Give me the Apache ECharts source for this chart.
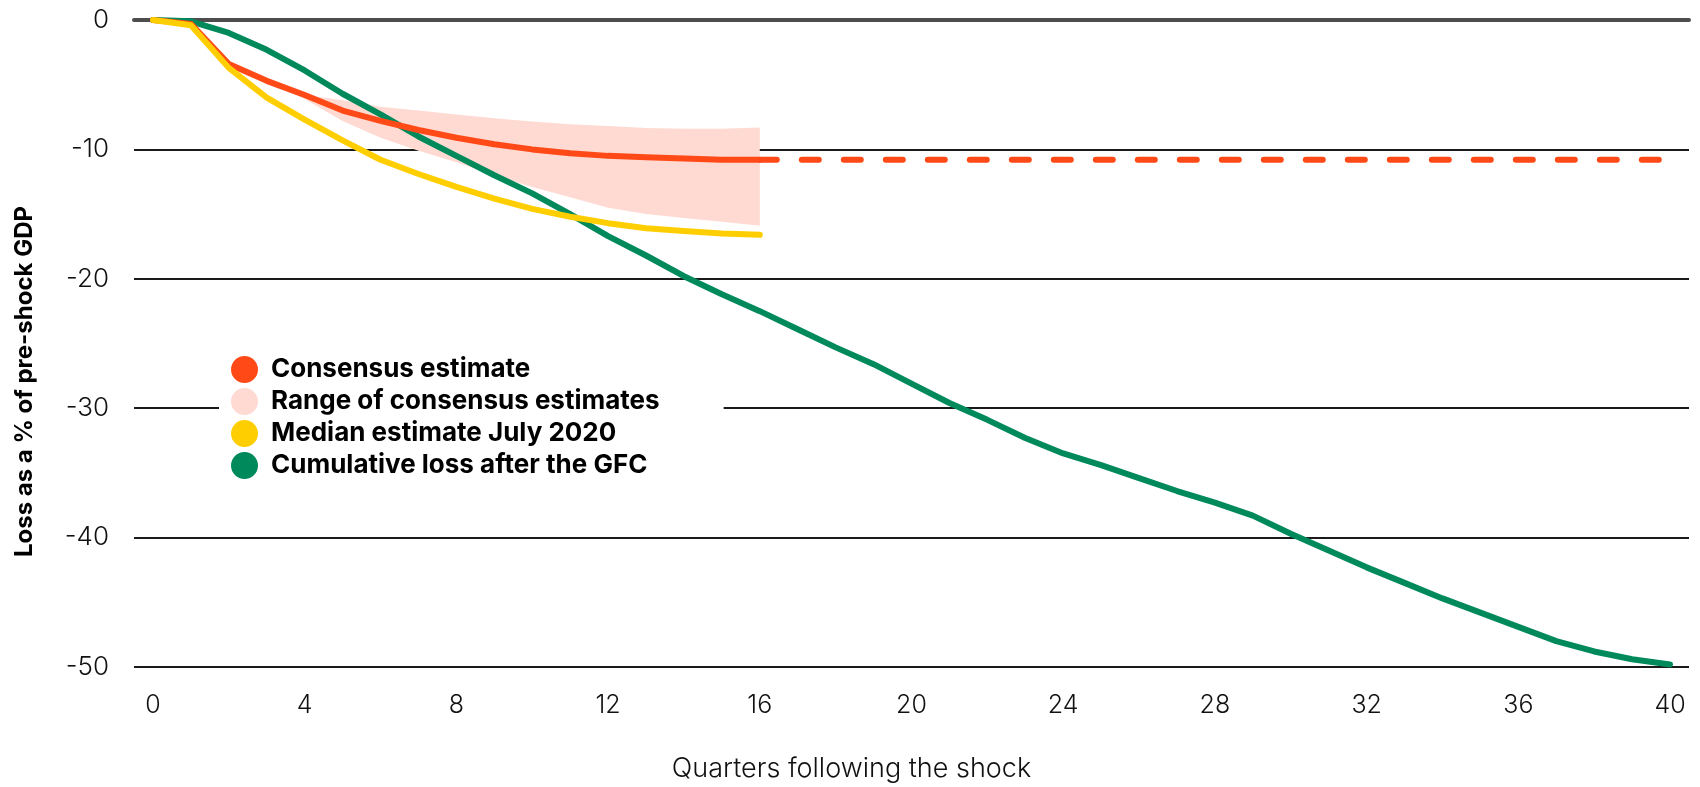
<!DOCTYPE html>
<html>
<head>
<meta charset="utf-8">
<script src="https://cdn.jsdelivr.net/npm/echarts@6/dist/echarts.min.js"></script>
<style>
html,body{margin:0;padding:0;background:#fff;}
#chart{width:1700px;height:787px;}
</style>
</head>
<body>
<div id="chart"></div>
<script>
// Quarters following the shock (0..40)
const quarters = ['0','1','2','3','4','5','6','7','8','9','10','11','12','13','14','15','16','17','18','19','20',
  '21','22','23','24','25','26','27','28','29','30','31','32','33','34','35','36','37','38','39','40'];

// Y-axis tick values
const yTicks = [0, -10, -20, -30, -40, -50];

// Consensus estimate (solid, quarters 0..16)
const consensus = [0, -0.3, -3.4, -4.7, -5.8, -7.0, -7.8, -8.5, -9.1, -9.6, -10.0, -10.3, -10.5, -10.6, -10.7, -10.8, -10.8];

// Consensus estimate extended (dashed, quarters 16..40)
const consensusExt = [-10.8, -10.8, -10.8, -10.8, -10.8, -10.8, -10.8, -10.8, -10.8, -10.8, -10.8, -10.8, -10.8,
  -10.8, -10.8, -10.8, -10.8, -10.8, -10.8, -10.8, -10.8, -10.8, -10.8, -10.8, -10.8];

// Range of consensus estimates (quarters 3..16)
const rangeStart = 3;
const rangeUpper = [-4.7, -5.8, -6.2, -6.7, -7.0, -7.3, -7.6, -7.85, -8.05, -8.2, -8.35, -8.4, -8.4, -8.3];
const rangeLower = [-4.7, -6.1, -7.8, -9.1, -10.1, -11.0, -12.0, -12.9, -13.7, -14.5, -15.0, -15.3, -15.6, -15.9];

// Median estimate July 2020 (quarters 0..16)
const median = [0, -0.4, -3.7, -6.0, -7.7, -9.3, -10.8, -11.9, -12.9, -13.8, -14.6, -15.2, -15.7, -16.1, -16.3, -16.5, -16.6];

// Cumulative loss after the GFC (quarters 0..40)
const gfc = [0, -0.1, -1.0, -2.3, -3.9, -5.7, -7.3, -9.0, -10.5, -12.0, -13.4, -15.0, -16.7, -18.2, -19.8, -21.2,
  -22.5, -23.9, -25.3, -26.6, -28.1, -29.6, -30.9, -32.3, -33.5, -34.4, -35.4, -36.4, -37.3, -38.3, -39.7,
  -41.0, -42.3, -43.5, -44.7, -45.8, -46.9, -48.0, -48.8, -49.4, -49.8];

const C_RED = '#FF4A17', C_PINK = '#FFDAD2', C_YEL = '#FFCE00', C_GRN = '#00895A';

// Build aligned arrays for the category axis
const consensusFull = quarters.map((_, i) => i < consensus.length ? consensus[i] : null);
const consensusExtFull = quarters.map((_, i) => i >= 16 ? consensusExt[i - 16] : null);
const medianFull = quarters.map((_, i) => i < median.length ? median[i] : null);
const inBand = i => i >= rangeStart && i < rangeStart + rangeUpper.length;
const bandBase = quarters.map((_, i) => inBand(i) ? rangeUpper[i - rangeStart] : null);
const bandDelta = quarters.map((_, i) => inBand(i)
  ? +(rangeLower[i - rangeStart] - rangeUpper[i - rangeStart]).toFixed(3) : null);

const labelFont = 'Inter, "Noto Sans", sans-serif';

const chart = echarts.init(document.getElementById('chart'), null, {renderer: 'canvas'});
chart.setOption({
  animation: false,
  backgroundColor: '#fff',
  grid: {left: 134, right: 11, top: 20, bottom: 111, containLabel: false},
  legend: {
    orient: 'vertical',
    left: 219,
    top: 351,
    padding: [5, 64, 5, 12],
    backgroundColor: '#fff',
    itemWidth: 27,
    itemHeight: 27,
    itemGap: 5,
    icon: 'circle',
    selectedMode: false,
    textStyle: {fontFamily: labelFont, fontWeight: 700, fontSize: 26, color: '#000', padding: [0, 0, 0, 8]},
    data: [
      {name: 'Consensus estimate', itemStyle: {color: C_RED, borderWidth: 0}},
      {name: 'Range of consensus estimates', itemStyle: {color: C_PINK, borderWidth: 0}},
      {name: 'Median estimate July 2020', itemStyle: {color: C_YEL, borderWidth: 0}},
      {name: 'Cumulative loss after the GFC', itemStyle: {color: C_GRN, borderWidth: 0}}
    ]
  },
  xAxis: [{
    type: 'category',
    data: quarters,
    boundaryGap: true,
    position: 'bottom',
    axisLine: {show: false},
    axisTick: {show: false},
    axisLabel: {
      interval: 3,
      margin: 26,
      fontFamily: labelFont,
      fontWeight: 300,
      fontSize: 25,
      color: '#111'
    },
    splitLine: {show: false},
    name: 'Quarters following the shock',
    nameLocation: 'middle',
    nameGap: 88,
    nameTextStyle: {fontFamily: labelFont, fontWeight: 300, fontSize: 27, color: '#111', padding: [0, 120, 0, 0]}
  }, {
    type: 'category',
    data: quarters,
    boundaryGap: true,
    position: 'top',
    axisLine: {show: true, lineStyle: {color: '#4d4d4d', width: 4}},
    axisTick: {show: false},
    axisLabel: {show: false},
    splitLine: {show: false}
  }],
  yAxis: {
    type: 'value',
    min: -50,
    max: 0,
    interval: 10,
    axisLine: {show: false},
    axisTick: {show: false},
    axisLabel: {
      margin: 25,
      fontFamily: labelFont,
      fontWeight: 300,
      fontSize: 26,
      color: '#111',
      formatter: function (v) { return yTicks.indexOf(v) >= 0 ? String(v) : ''; }
    },
    splitLine: {show: true, lineStyle: {color: '#1a1a1a', width: 2}},
    name: 'Loss as a % of pre-shock GDP',
    nameLocation: 'middle',
    nameGap: 97,
    nameRotate: 90,
    nameTextStyle: {fontFamily: labelFont, fontWeight: 700, fontSize: 24, color: '#000', padding: [0, 76, 0, 0]}
  },
  series: [
    {
      name: 'bandBase',
      type: 'line',
      stack: 'band',
      data: bandBase,
      showSymbol: false,
      symbol: 'none',
      lineStyle: {width: 0, opacity: 0},
      itemStyle: {color: C_PINK},
      silent: true,
      z: 1
    },
    {
      name: 'Range of consensus estimates',
      type: 'line',
      stack: 'band',
      data: bandDelta,
      showSymbol: false,
      symbol: 'none',
      lineStyle: {width: 0, opacity: 0},
      itemStyle: {color: C_PINK},
      areaStyle: {color: C_PINK, opacity: 1},
      silent: true,
      z: 1
    },
    {
      name: 'Cumulative loss after the GFC',
      type: 'line',
      data: gfc,
      showSymbol: false,
      symbol: 'none',
      itemStyle: {color: C_GRN},
      lineStyle: {color: C_GRN, width: 6, cap: 'round', join: 'round'},
      z: 3
    },
    {
      name: 'Consensus estimate',
      type: 'line',
      data: consensusExtFull,
      showSymbol: false,
      symbol: 'none',
      itemStyle: {color: C_RED},
      lineStyle: {color: C_RED, width: 6, type: [17, 25], cap: 'round'},
      z: 4
    },
    {
      name: 'Consensus estimate',
      type: 'line',
      data: consensusFull,
      showSymbol: false,
      symbol: 'none',
      itemStyle: {color: C_RED},
      lineStyle: {color: C_RED, width: 6, cap: 'round', join: 'round'},
      z: 4
    },
    {
      name: 'Median estimate July 2020',
      type: 'line',
      data: medianFull,
      showSymbol: false,
      symbol: 'none',
      itemStyle: {color: C_YEL},
      lineStyle: {color: C_YEL, width: 6, cap: 'round', join: 'round'},
      z: 5
    }
  ]
});
</script>
</body>
</html>
